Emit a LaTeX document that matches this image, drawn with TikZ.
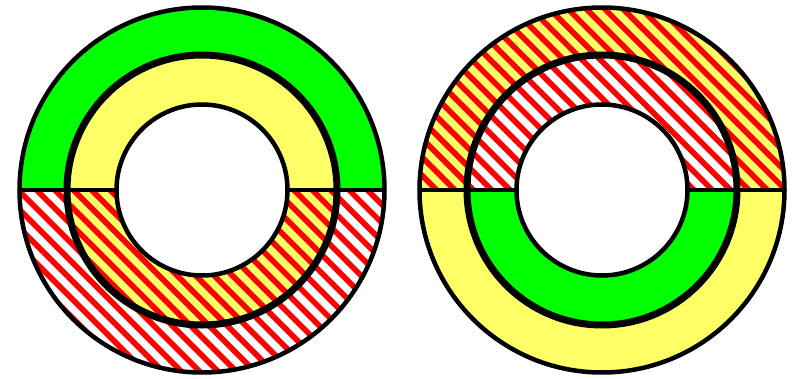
\documentclass[tikz,border=0pt]{standalone}
\definecolor{ringGreen}{HTML}{00FF00}
\definecolor{ringYellow}{HTML}{FFFF66}
\definecolor{ringRed}{HTML}{FF0000}
\newcommand{\topband}[2]{(#2,0) arc[start angle=0,end angle=180,radius=#2] -- (-#1,0) arc[start angle=180,end angle=0,radius=#1] -- cycle}
\newcommand{\bottomband}[2]{(#2,0) arc[start angle=0,end angle=-180,radius=#2] -- (-#1,0) arc[start angle=-180,end angle=0,radius=#1] -- cycle}
\newcommand{\redstripes}{\foreach \c in {-386,-367.62,...,386} \draw[stripeline] ({\c-200},200) -- ({\c+200},-200);}
\tikzset{
  stripeline/.style={ringRed, line width=5.6pt},
  thinline/.style={line width=4.5pt},
  thickline/.style={line width=7pt}
}

\begin{document}
\begin{tikzpicture}[x=1pt,y=1pt]
  \useasboundingbox (0,0) rectangle (796,378);
  % left ring
  \begin{scope}[shift={(202,188)}]
    \fill[ringGreen] \topband{135}{182.5};
    \fill[ringYellow] \topband{85.5}{135};
    \fill[ringYellow] \bottomband{85.5}{135};
    \begin{scope}
      \clip \bottomband{85.5}{182.5};
      \redstripes
    \end{scope}
    \draw[thinline] (0,0) circle[radius=182.5];
    \draw[thinline] (0,0) circle[radius=85.5];
    \draw[thinline] (-182.5,0) -- (-85.5,0) (85.5,0) -- (182.5,0);
    \draw[thickline] (0,0) circle[radius=135];
  \end{scope}
  % right ring
  \begin{scope}[shift={(602,188)}]
    \fill[ringYellow] \topband{135}{182.5};
    \begin{scope}
      \clip \topband{85.5}{182.5};
      \redstripes
    \end{scope}
    \fill[ringGreen] \bottomband{85.5}{135};
    \fill[ringYellow] \bottomband{135}{182.5};
    \draw[thinline] (0,0) circle[radius=182.5];
    \draw[thinline] (0,0) circle[radius=85.5];
    \draw[thinline] (-182.5,0) -- (-85.5,0) (85.5,0) -- (182.5,0);
    \draw[thickline] (0,0) circle[radius=135];
  \end{scope}
\end{tikzpicture}
\end{document}
